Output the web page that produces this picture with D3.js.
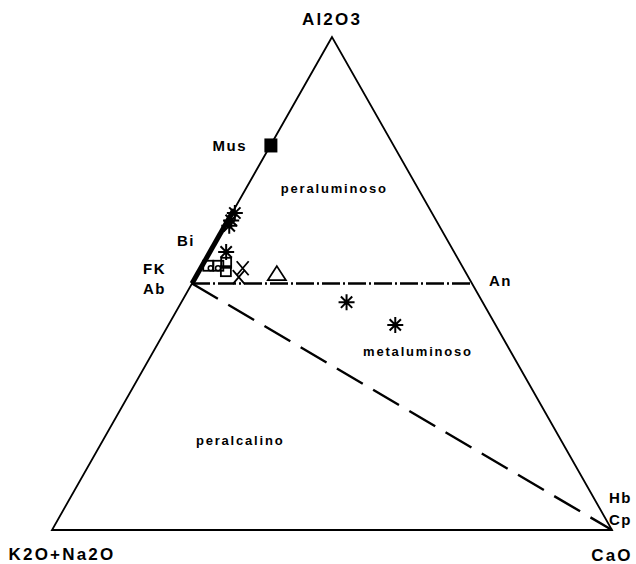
<!DOCTYPE html>
<html>
<head>
<meta charset="utf-8">
<script src="https://cdn.jsdelivr.net/npm/d3@7"></script>
<style>
  body { margin: 0; background: #fff; }
  svg text { font-family: "Liberation Sans", Arial, sans-serif; fill: #000; }
</style>
</head>
<body>
<svg id="acnk" width="636" height="564"></svg>
<script>
// ternary data : [Al2O3, K2O+Na2O, CaO]
const vertexNames = ['Al2O3', 'K2O+Na2O', 'CaO'];
const asterisks = [
  [0.643, 0.352, 0.005],
  [0.628, 0.366, 0.006],
  [0.617, 0.375, 0.008],
  [0.564, 0.407, 0.029],
  [0.462, 0.243, 0.295],
  [0.416, 0.179, 0.405]
];
const squares = [
  [0.536, 0.453, 0.011],
  [0.536, 0.435, 0.029],
  [0.542, 0.418, 0.040],
  [0.525, 0.427, 0.048]
];
const circles = [
  [0.531, 0.451, 0.018],
  [0.531, 0.438, 0.031]
];
const crosses = [
  [0.531, 0.394, 0.075],
  [0.513, 0.410, 0.077]
];
const triangles = [
  [0.519, 0.339, 0.142]
];
const muscovite = [0.78, 0.22, 0.0];
const biotiteLine = [[0.5, 0.5, 0.0], [0.65, 0.35, 0.0]];
const abAn = [[0.5, 0.5, 0.0], [0.5, 0.0, 0.5]];
const abCaO = [[0.5, 0.5, 0.0], [0.0, 0.0, 1.0]];
const fieldNames = ['peraluminoso', 'metaluminoso', 'peralcalino'];
const fieldAt = [[0.684, 0.154, 0.162], [0.353, 0.17, 0.477], [0.172, 0.578, 0.25]];
const mineralNames = ['Mus', 'Bi', 'FK', 'Ab', 'An', 'Hb', 'Cp'];

const svg = d3.select('svg#acnk');

// triangle corners in pixels
let apex = [332, 37], left = [52, 530], right = [612, 530];
let sy = d3.scaleLinear().domain([0, 1]).range([left[1], apex[1]]);

function tern(p) {
  let a = p[0], c = p[2];
  let x = left[0] + a * (apex[0] - left[0]) + c * (right[0] - left[0]);
  return [x, sy(a)];
}

let line = d3.line();

// frame
svg.append('path')
  .attr('d', line([tern([1,0,0]), tern([0,1,0]), tern([0,0,1])]) + 'Z')
  .attr('fill', 'none')
  .attr('stroke', '#000')
  .attr('stroke-width', 1.8);

// Ab - An join
svg.append('path')
  .attr('d', line(abAn.map(tern)))
  .attr('stroke', '#000')
  .attr('stroke-width', 2.4)
  .attr('stroke-dasharray', '18,3,2,3');

// Ab - CaO join
svg.append('path')
  .attr('d', line(abCaO.map(tern)))
  .attr('stroke', '#000')
  .attr('stroke-width', 2.4)
  .attr('stroke-dasharray', '30,12');

// biotite range
svg.append('path')
  .attr('d', line(biotiteLine.map(tern)))
  .attr('stroke', '#000')
  .attr('stroke-width', 5);

// muscovite
let m = tern(muscovite);
svg.append('rect')
  .attr('x', m[0] - 6).attr('y', m[1] - 7)
  .attr('width', 13).attr('height', 14)
  .attr('fill', '#000');

// symbols
let sym = svg.append('g').attr('stroke', '#000').attr('fill', 'none');

squares.forEach(function(p) {
  let q = tern(p);
  sym.append('rect')
    .attr('x', q[0] - 5).attr('y', q[1] - 5)
    .attr('width', 10).attr('height', 10)
    .attr('stroke-width', 1.8);
});

circles.forEach(function(p) {
  let q = tern(p);
  sym.append('circle')
    .attr('cx', q[0]).attr('cy', q[1]).attr('r', 2.5)
    .attr('stroke-width', 1.5);
});

crosses.forEach(function(p) {
  let q = tern(p);
  sym.append('path')
    .attr('d', 'M' + (q[0]-6) + ',' + (q[1]-7) + 'L' + (q[0]+6) + ',' + (q[1]+7) +
               'M' + (q[0]+6) + ',' + (q[1]-7) + 'L' + (q[0]-6) + ',' + (q[1]+7))
    .attr('stroke-width', 1.8);
});

triangles.forEach(function(p) {
  let q = tern(p);
  sym.append('path')
    .attr('d', 'M' + q[0] + ',' + (q[1]-8) + 'L' + (q[0]+9) + ',' + (q[1]+6) +
               'L' + (q[0]-9) + ',' + (q[1]+6) + 'Z')
    .attr('stroke-width', 1.8);
});

asterisks.forEach(function(p) {
  let q = tern(p);
  let d = '';
  for (let k = 0; k < 4; k++) {
    let ang = k * Math.PI / 4;
    let dx = 8 * Math.cos(ang), dy = 8 * Math.sin(ang);
    d += 'M' + (q[0]-dx) + ',' + (q[1]-dy) + 'L' + (q[0]+dx) + ',' + (q[1]+dy);
  }
  sym.append('path').attr('d', d).attr('stroke-width', 2);
});

// vertex labels
let vpos = [[apex[0], 25], [62, 560], [612, 561]];
vertexNames.forEach(function(t, i) {
  svg.append('text')
    .attr('x', vpos[i][0]).attr('y', vpos[i][1])
    .attr('text-anchor', 'middle')
    .attr('font-size', 17).attr('font-weight', 'bold')
    .attr('letter-spacing', 2.2)
    .text(t);
});

// field labels
fieldNames.forEach(function(t, i) {
  let q = tern(fieldAt[i]);
  svg.append('text')
    .attr('x', q[0]).attr('y', q[1])
    .attr('text-anchor', 'middle')
    .attr('font-size', 13).attr('font-weight', 'bold')
    .attr('letter-spacing', 1.8)
    .text(t);
});

// mineral labels
let mpos = [[247, 151], [195, 246], [166, 274], [166, 294], [489, 286], [609, 503], [609, 525]];
mineralNames.forEach(function(t, i) {
  svg.append('text')
    .attr('x', mpos[i][0]).attr('y', mpos[i][1])
    .attr('text-anchor', i <= 3 ? 'end' : 'start')
    .attr('font-size', 15).attr('font-weight', 'bold')
    .attr('letter-spacing', 1.5)
    .text(t);
});
</script>
</body>
</html>
